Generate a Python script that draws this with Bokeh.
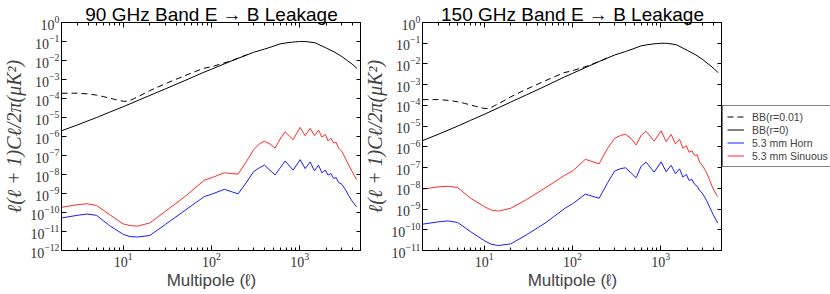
from bokeh.plotting import figure
from bokeh.models import Range1d, FixedTicker, LogAxis, Legend, LegendItem, CustomJSTickFormatter
from bokeh.layouts import row
from bokeh.embed import file_html
from bokeh.resources import INLINE

# ---------------- data ----------------
titles = ["90 GHz Band E \u2192 B Leakage", "150 GHz Band E \u2192 B Leakage"]
x_label = "Multipole (\u2113)"
y_label = "\u2113(\u2113 + 1)C\u2113/2\u03c0(\u03bcK\u00b2)"

x_major_ticks = [10, 100, 1000]
x_minor_ticks = [2, 3, 4, 5, 6, 7, 8, 9, 20, 30, 40, 50, 60, 70, 80, 90,
                 200, 300, 400, 500, 600, 700, 800, 900, 2000, 3000, 4000, 5000]
y_ticks_90 = [1e-12, 1e-11, 1e-10, 1e-9, 1e-8, 1e-7, 1e-6, 1e-5, 1e-4, 1e-3, 1e-2, 1e-1, 1e0]
y_ticks_150 = [1e-11, 1e-10, 1e-9, 1e-8, 1e-7, 1e-6, 1e-5, 1e-4, 1e-3, 1e-2, 1e-1, 1e0]

# lensing BB, r = 0
ell_bb0 = [2, 3, 5, 7, 10, 15, 20, 30, 50, 80, 100, 150, 200, 300, 400, 500, 600,
           700, 800, 900, 1000, 1100, 1200, 1500, 2000, 2500, 3000, 3500, 4000, 4450]
bb_r0 = [2.0e-6, 4.0e-6, 1.0e-5, 1.9e-5, 3.7e-5, 8.2e-5, 1.45e-4, 3.2e-4, 8.8e-4, 2.3e-3,
         3.5e-3, 7.6e-3, 1.3e-2, 2.7e-2, 4.0e-2, 5.6e-2, 7.5e-2, 8.4e-2, 9.1e-2, 9.6e-2,
         9.9e-2, 1.0e-1, 9.8e-2, 8.5e-2, 4.5e-2, 2.7e-2, 1.6e-2, 9.5e-3, 6.0e-3, 3.8e-3]

# BB, r = 0.01
ell_bb01 = [2, 3, 4, 5, 6, 7, 8, 9, 10, 11, 12, 13, 15, 20, 30, 50, 80, 100, 150, 200, 250]
bb_r001 = [1.9e-4, 1.9e-4, 1.75e-4, 1.5e-4, 1.25e-4, 1.05e-4, 9.0e-5, 7.9e-5, 7.2e-5, 7.1e-5,
           8.0e-5, 9.5e-5, 1.3e-4, 2.6e-4, 6.0e-4, 1.6e-3, 3.8e-3, 4.7e-3, 8.2e-3, 1.32e-2, 2.0e-2]

# leakage spectra (log10 of l(l+1)C_l/2pi)
ell_leak = [2, 3, 3.9, 5, 7, 10, 12, 14.5, 20, 30, 50, 83, 100, 140, 200, 250, 300, 350, 398,
            460, 525, 600, 682, 841, 1009, 1150, 1310, 1466, 1630, 1780, 1950, 2090, 2250,
            2420, 2580, 2750, 3000, 3300, 3580, 3900, 4400]
horn_90_log = [-10.29, -10.15, -10.08, -10.15, -10.69, -11.15, -11.27, -11.29, -11.21, -10.63,
               -9.89, -9.16, -9.04, -8.78, -9.02, -8.40, -7.85, -7.64, -7.51, -7.78, -8.02,
               -7.65, -7.29, -7.77, -7.22, -7.69, -7.34, -7.81, -7.51, -7.91, -7.77, -8.03,
               -7.95, -8.21, -8.16, -8.42, -8.52, -8.81, -9.11, -9.39, -9.70]
sinuous_90_log = [-9.73, -9.59, -9.54, -9.63, -10.11, -10.60, -10.69, -10.72, -10.55, -9.94,
                  -9.16, -8.30, -8.17, -7.91, -7.98, -7.30, -6.70, -6.38, -6.25, -6.39, -6.61,
                  -6.13, -5.75, -6.17, -5.52, -5.96, -5.57, -5.96, -5.66, -6.03, -5.89, -6.23,
                  -6.09, -6.35, -6.30, -6.61, -6.79, -7.17, -7.51, -7.83, -8.27]
horn_150_log = [-9.73, -9.62, -9.57, -9.65, -10.09, -10.52, -10.70, -10.76, -10.68, -10.25,
                -9.65, -8.95, -8.75, -8.28, -8.48, -7.73, -7.17, -7.05, -7.01, -7.25, -7.49,
                -6.93, -6.74, -7.22, -6.72, -7.20, -6.89, -7.30, -7.06, -7.46, -7.33, -7.62,
                -7.57, -7.81, -7.90, -8.09, -8.28, -8.59, -8.91, -9.25, -9.67]
sinuous_150_log = [-8.04, -7.93, -7.90, -7.96, -8.48, -8.88, -9.05, -9.10, -8.96, -8.55,
                   -7.96, -7.35, -7.17, -6.60, -6.82, -6.07, -5.59, -5.45, -5.39, -5.59, -5.91,
                   -5.44, -5.25, -5.72, -5.23, -5.75, -5.40, -5.86, -5.64, -6.07, -5.94, -6.26,
                   -6.19, -6.41, -6.38, -6.73, -6.93, -7.25, -7.62, -8.01, -8.40]

legend_labels = ["BB(r=0.01)", "BB(r=0)", "5.3 mm Horn", "5.3 mm Sinuous"]

# ---------------- styling ----------------
RED = "#ff2a2a"
BLUE = "#1a1aff"
DASH = "6 4"
TICK_FONT = "Liberation Serif"
FIG_H = 286
FRAME_H = 228


def style_axis(ax, show_labels):
    ax.major_tick_in = 5
    ax.major_tick_out = 0
    ax.minor_tick_in = 3
    ax.minor_tick_out = 0
    ax.axis_line_color = None
    ax.major_tick_line_color = "black"
    ax.minor_tick_line_color = "black"
    ax.major_label_text_font = TICK_FONT
    ax.major_label_text_color = "#333333"
    ax.major_label_text_font_size = "14px"
    if show_labels:
        ax.major_label_standoff = 2
    else:
        ax.formatter = CustomJSTickFormatter(code="return ''")
        ax.major_label_standoff = 0


def make_panel(title, y_ticks, y_lo, horn_log, sin_log, left_border):
    p = figure(x_axis_type="log", y_axis_type="log",
               x_range=Range1d(2, 5000), y_range=Range1d(y_lo, 1.0),
               frame_width=300, frame_height=FRAME_H,
               min_border_left=left_border, min_border_right=0,
               min_border_top=10, min_border_bottom=30,
               output_backend="svg", toolbar_location=None)
    p.grid.visible = False
    p.outline_line_color = "black"
    p.outline_line_width = 1
    p.background_fill_color = "white"
    p.border_fill_color = "white"

    bottom = p.below[0]
    left = p.left[0]
    bottom.ticker = FixedTicker(ticks=x_major_ticks, minor_ticks=x_minor_ticks)
    left.ticker = FixedTicker(ticks=y_ticks, minor_ticks=[])
    style_axis(bottom, True)
    style_axis(left, True)

    bottom.axis_label = x_label
    bottom.axis_label_text_font = "Liberation Sans"
    bottom.axis_label_text_font_style = "normal"
    bottom.axis_label_text_font_size = "17px"
    bottom.axis_label_standoff = 1
    left.axis_label = y_label
    left.axis_label_text_font = "Liberation Serif"
    left.axis_label_text_font_style = "italic"
    left.axis_label_text_font_size = "20px"
    left.axis_label_standoff = 2

    top = LogAxis(ticker=FixedTicker(ticks=x_major_ticks, minor_ticks=x_minor_ticks))
    style_axis(top, False)
    top.axis_label = title
    top.axis_label_text_font = "Liberation Sans"
    top.axis_label_text_font_style = "normal"
    top.axis_label_text_font_size = "19px"
    top.axis_label_text_color = "black"
    top.axis_label_standoff = -2
    p.add_layout(top, "above")

    right = LogAxis(ticker=FixedTicker(ticks=y_ticks, minor_ticks=[]))
    style_axis(right, False)
    p.add_layout(right, "right")

    p.line(ell_bb01, bb_r001, line_color="black", line_width=1, line_dash=DASH)
    p.line(ell_bb0, bb_r0, line_color="black", line_width=1)
    p.line(ell_leak, [10 ** v for v in horn_log], line_color=BLUE, line_width=1)
    p.line(ell_leak, [10 ** v for v in sin_log], line_color=RED, line_width=1)
    return p


p1 = make_panel(titles[0], y_ticks_90, 1e-12, horn_90_log, sinuous_90_log, 49)
p2 = make_panel(titles[1], y_ticks_150, 1e-11, horn_150_log, sinuous_150_log, 50)

# legend-only figure to the right of the second panel; its line renderers hold
# the same data as the panels, but the view range leaves them outside the frame.
pl = figure(width=108, height=FIG_H, x_range=Range1d(0, 1), y_range=Range1d(0, 1),
            min_border=0, output_backend="svg", toolbar_location=None)
pl.axis.visible = False
pl.grid.visible = False
pl.outline_line_color = None
series = [(ell_bb01, bb_r001, dict(line_color="black", line_dash=DASH)),
          (ell_bb0, bb_r0, dict(line_color="black")),
          (ell_leak, horn_150_log, dict(line_color=BLUE)),
          (ell_leak, sinuous_150_log, dict(line_color=RED))]
items = []
for lab, (xs, ys, st) in zip(legend_labels, series):
    r = pl.line(x=xs, y=ys, line_width=1, **st)
    items.append(LegendItem(label=lab, renderers=[r]))
legend = Legend(items=items, location=(0, 77), orientation="vertical",
                border_line_color="black", border_line_width=1,
                background_fill_color="white", background_fill_alpha=1.0,
                label_text_font="Liberation Sans", label_text_font_size="10.5px",
                glyph_width=17, glyph_height=13, label_height=13, spacing=0,
                padding=4, margin=0, label_standoff=8)
pl.add_layout(legend, "center")

layout = row(p1, p2, pl, spacing=0)
open("out.html", "w").write(file_html(layout, INLINE))
